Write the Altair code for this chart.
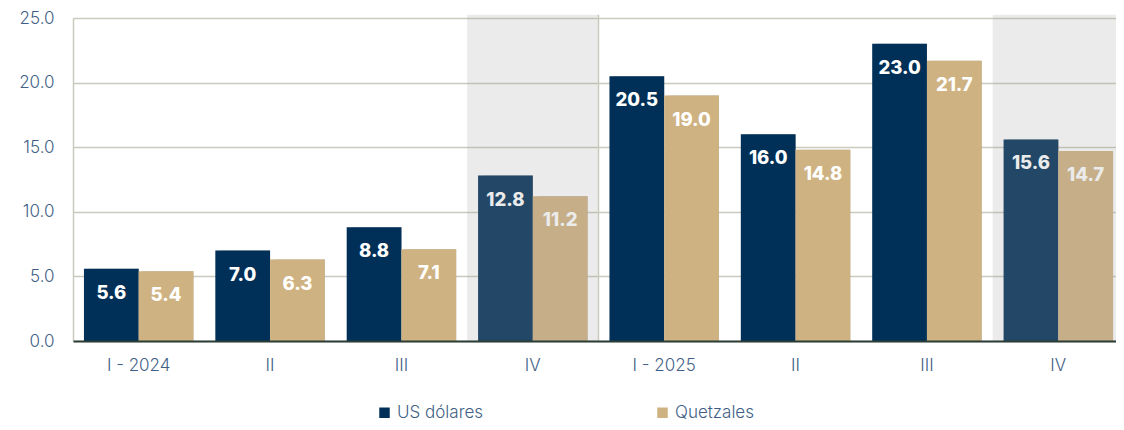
import json
import altair as alt
import pandas as pd

# ---- data ----
idx = [0, 1, 2, 3, 4, 5, 6, 7]
labels = ["I - 2024", "II", "III", "IV", "I - 2025", "II", "III", "IV"]
usd = [5.6, 7.0, 8.8, 12.8, 20.5, 16.0, 23.0, 15.6]
gtq = [5.4, 6.3, 7.1, 11.2, 19.0, 14.8, 21.7, 14.7]
series = ["US dólares", "Quetzales"]
shaded = [3, 7]
separator = [4]
yticks = [0, 5, 10, 15, 20, 25]

rows = []
for i, a, b in zip(idx, usd, gtq):
    rows.append({"idx": i, "series": series[0], "value": a})
    rows.append({"idx": i, "series": series[1], "value": b})
df = pd.DataFrame(rows)
shade_df = pd.DataFrame({"idx": shaded})
sep_df = pd.DataFrame({"idx": separator})

BLUE = "#003057"
TAN = "#cfb281"
GRID = "#c9c9bd"
LABEL = "#3f5f86"
FONT = "Inter"

label_expr = json.dumps(labels) + "[datum.value]"

xscale = alt.Scale(domain=idx, paddingInner=0, paddingOuter=0)
xaxis = alt.Axis(
    title=None, labelExpr=label_expr, labelAngle=0, ticks=False,
    domainColor="#2b3d36", domainWidth=2, labelFontSize=17, labelColor=LABEL,
    labelFont=FONT, labelFontWeight=300, labelPadding=16, grid=False, zindex=1,
)
yscale = alt.Scale(domain=[0, 25], nice=False)
yaxis = alt.Axis(
    title=None, values=yticks, format=".1f", ticks=False, labelFontSize=17,
    labelColor=LABEL, labelFont=FONT, labelFontWeight=300, labelPadding=19,
    grid=True, gridColor=GRID, gridWidth=1.5, domain=True, domainColor=GRID,
    domainWidth=1.5,
)
xoff = alt.XOffset("series:N", sort=series,
                   scale=alt.Scale(domain=series, paddingInner=0, paddingOuter=0.2))

base = alt.Chart(df)

shadow_fill = alt.Gradient(
    gradient="linear", x1=0, x2=1, y1=0, y2=0,
    stops=[
        alt.GradientStop(color="rgba(0,0,0,0)", offset=0),
        alt.GradientStop(color="rgba(0,0,0,0.3)", offset=0.13),
        alt.GradientStop(color="rgba(0,0,0,0.3)", offset=1),
    ],
)

shadows = base.mark_bar(fill=shadow_fill, xOffset=-7, y2Offset=3).encode(
    x=alt.X("idx:O", scale=xscale, axis=xaxis),
    xOffset=xoff,
    y=alt.Y("value:Q", scale=yscale, axis=yaxis),
)

bars = base.mark_bar().encode(
    x=alt.X("idx:O", scale=xscale, axis=xaxis),
    xOffset=xoff,
    y=alt.Y("value:Q", scale=yscale, axis=yaxis),
    color=alt.Color(
        "series:N", sort=series,
        scale=alt.Scale(domain=series, range=[BLUE, TAN]),
        legend=alt.Legend(
            title=None, orient="none", legendX=303, legendY=386,
            direction="horizontal", symbolType="square", symbolSize=110,
            symbolStrokeWidth=0, labelFontSize=17, labelColor=LABEL,
            labelFont=FONT, labelFontWeight=300, columnPadding=170,
            labelOffset=4,
        ),
    ),
)

texts = base.mark_text(
    color="white", font=FONT, fontWeight=800, fontSize=18.5,
    baseline="middle", dy=24,
).encode(
    x=alt.X("idx:O", scale=xscale),
    xOffset=xoff,
    y=alt.Y("value:Q", scale=yscale),
    text=alt.Text("value:Q", format=".1f"),
)

shade = alt.Chart(shade_df).mark_rect(fill="#a2a2a2", opacity=0.216).encode(
    x=alt.X("idx:O", scale=xscale),
    y=alt.datum(25.25),
    y2=alt.datum(0),
)

sep = alt.Chart(sep_df).mark_rule(color=GRID, strokeWidth=1.5).encode(
    x=alt.X("idx:O", scale=xscale, bandPosition=0),
    y=alt.datum(25.25),
    y2=alt.datum(0),
)

chart = alt.layer(shadows, bars, texts, shade, sep).properties(
    width=1051, height=323,
    autosize=alt.AutoSizeParams(type="none"),
    padding={"left": 65, "top": 10, "right": -8, "bottom": 81},
).configure_view(stroke=None)

chart.save("out.html", embed_options={"renderer": "svg", "actions": False})
